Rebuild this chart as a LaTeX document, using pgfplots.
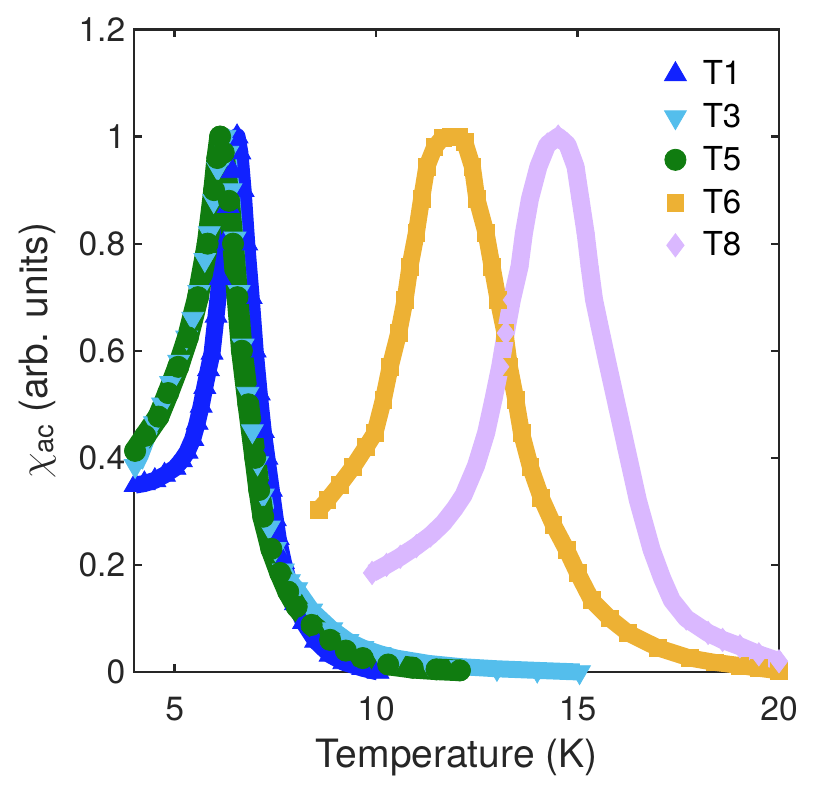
\documentclass[border=0pt]{standalone}
\usepackage{fontspec}
\setmainfont{TeX Gyre Heros}
\usepackage{amsmath}
\usepackage{pgfplots}
\pgfplotsset{compat=1.18}
\usepackage{pgfplotstable}
\definecolor{axcol}{RGB}{38,38,38}
\definecolor{cTone}{RGB}{17,34,255}
\definecolor{cTthree}{RGB}{84,190,236}
\definecolor{cTfive}{RGB}{16,124,16}
\definecolor{cTsix}{RGB}{237,177,52}
\definecolor{cTeight}{RGB}{218,184,255}

\pgfplotstableread{
x y
4.02 0.349
4.25 0.352
4.51 0.358
4.75 0.368
5.01 0.381
5.17 0.395
5.31 0.411
5.45 0.435
5.56 0.465
5.66 0.497
5.75 0.532
5.84 0.565
5.93 0.596
6.03 0.665
6.13 0.735
6.23 0.80
6.33 0.87
6.43 0.935
6.50 0.98
6.55 1.00
6.62 0.97
6.70 0.90
6.79 0.80
6.90 0.70
7.00 0.60
7.10 0.52
7.20 0.45
7.29 0.40
7.40 0.34
7.50 0.285
7.57 0.25
7.70 0.205
7.85 0.163
8.00 0.128
8.20 0.093
8.50 0.058
8.86 0.032
9.20 0.018
9.67 0.007
10.05 0.0
}\Tone

\pgfplotstableread{
x y
4.02 0.385
4.15 0.405
4.30 0.435
4.50 0.465
4.70 0.50
4.90 0.54
5.10 0.58
5.30 0.625
5.45 0.66
5.60 0.71
5.75 0.77
5.86 0.82
5.97 0.88
6.07 0.94
6.17 0.985
6.25 1.00
6.32 0.97
6.40 0.90
6.50 0.81
6.60 0.71
6.70 0.61
6.82 0.52
6.93 0.45
7.06 0.39
7.20 0.33
7.35 0.27
7.50 0.23
7.70 0.19
7.85 0.17
8.03 0.155
8.40 0.115
8.90 0.08
9.30 0.058
9.67 0.045
10.10 0.034
10.50 0.026
11.30 0.016
12.10 0.010
13.00 0.006
14.00 0.003
15.05 0.0
}\Tthree

\pgfplotstableread{
x y
4.02 0.413
4.27 0.441
4.60 0.477
4.84 0.521
5.09 0.57
5.33 0.625
5.58 0.70
5.82 0.80
5.98 0.90
6.06 0.96
6.13 1.00
6.22 0.97
6.35 0.88
6.45 0.80
6.56 0.70
6.67 0.60
6.83 0.50
7.00 0.40
7.10 0.34
7.20 0.29
7.40 0.23
7.62 0.185
7.82 0.15
8.03 0.122
8.40 0.088
8.86 0.06
9.25 0.04
9.67 0.026
10.30 0.014
10.91 0.008
11.50 0.005
12.08 0.003
}\Tfive

\pgfplotstableread{
x y
8.58 0.303
8.79 0.321
9.10 0.35
9.43 0.383
9.75 0.42
9.97 0.446
10.18 0.508
10.35 0.57
10.56 0.633
10.72 0.695
10.84 0.757
11.00 0.82
11.13 0.884
11.26 0.944
11.45 0.98
11.65 0.998
11.85 1.00
12.05 1.00
12.20 0.99
12.39 0.944
12.50 0.884
12.73 0.82
12.88 0.757
13.03 0.695
13.20 0.633
13.31 0.57
13.47 0.508
13.61 0.446
13.83 0.383
14.10 0.325
14.40 0.275
14.73 0.228
15.00 0.185
15.35 0.134
15.80 0.10
16.25 0.073
17.00 0.045
17.79 0.026
18.40 0.018
19.03 0.012
19.50 0.007
20.00 0.002
}\Tsix

\pgfplotstableread{
x y
9.90 0.185
10.26 0.20
10.60 0.215
11.00 0.235
11.35 0.255
11.67 0.278
11.95 0.305
12.17 0.33
12.48 0.385
12.73 0.446
12.91 0.508
13.08 0.57
13.22 0.633
13.37 0.695
13.56 0.757
13.67 0.82
13.82 0.884
14.03 0.944
14.25 0.985
14.52 1.00
14.75 0.985
14.95 0.944
15.07 0.884
15.20 0.82
15.30 0.757
15.41 0.695
15.55 0.645
15.75 0.575
16.00 0.49
16.22 0.415
16.50 0.32
16.84 0.228
17.10 0.175
17.34 0.134
17.70 0.10
18.24 0.073
18.60 0.06
19.03 0.048
19.50 0.033
20.00 0.02
}\Teight

\begin{document}
\begin{tikzpicture}
\begin{axis}[
  scale only axis,
  width=322.35bp, height=321.25bp,
  xmin=4, xmax=20, ymin=0, ymax=1.2,
  xtick={5,10,15,20},
  ytick={0,0.2,0.4,0.6,0.8,1,1.2},
  minor tick num=0,
  tick align=inside,
  xtick pos=both, ytick pos=both,
  xticklabel pos=bottom, yticklabel pos=left,
  major tick length=4bp,
  axis line style={draw=axcol, line width=1.1bp},
  every tick/.style={draw=axcol, line width=1.1bp},
  clip=false,
  /pgf/number format/assume math mode=true,
  tick label style={font=\fontsize{16.8bp}{20bp}\selectfont, text=axcol},
  xticklabel style={anchor=base, yshift=-24bp},
  yticklabel style={anchor=east, xshift=-1bp},
  label style={font=\fontsize{19.5bp}{23bp}\selectfont, text=axcol},
  xlabel={Temperature (K)},
  xlabel style={at={(axis description cs:0.5,0)}, anchor=base, yshift=-47.65bp},
  ylabel={$\chi_{\text{ac}}$ (arb. units)},
  ylabel style={at={(axis description cs:-0.150,0.5)}, anchor=center, rotate=0},
  legend style={at={(rel axis cs:0.817,0.955)}, anchor=north west, draw=none, fill=none,
    inner sep=0pt, row sep=5.85bp, column sep=0pt,
    font=\fontsize{16.5bp}{19bp}\selectfont, text=black,
    nodes={inner sep=1bp}},
  legend cell align=left,
  legend image code/.code={\path[draw=none,fill=none] (-7bp,0bp) -- (12.7bp,0bp); \draw[#1] plot coordinates {(0bp,0bp)};},
]
\coordinate (ll) at (rel axis cs:0,0);
\coordinate (ur) at (rel axis cs:1,1);

\addplot[draw=cTone, line width=8.5bp, line join=round, forget plot] table {\Tone};
\addplot[only marks, mark=triangle*, mark size=6.3bp, draw=cTone, fill=cTone, mark options={draw=cTone, fill=cTone}] table {\Tone};
\addlegendentry{T1}

\addplot[draw=cTthree, line width=8.5bp, line join=round, forget plot] table {\Tthree};
\addplot[only marks, mark=triangle*, mark size=6.3bp, draw=cTthree, fill=cTthree, mark options={draw=cTthree, fill=cTthree, rotate=180}] table {\Tthree};
\addlegendentry{T3}

\addplot[draw=cTfive, line width=10.8bp, line join=round, line cap=round, forget plot] table {\Tfive};
\addplot[only marks, mark=*, mark size=5.3bp, draw=cTfive, fill=cTfive, mark options={draw=cTfive, fill=cTfive}] table {\Tfive};
\addlegendentry{T5}

\addplot[draw=cTsix, line width=8.5bp, line join=round, forget plot] table {\Tsix};
\addplot[only marks, mark=square*, mark size=4.2bp, draw=cTsix, fill=cTsix, mark options={draw=cTsix, fill=cTsix}] table {\Tsix};
\addlegendentry{T6}

\addplot[draw=cTeight, line width=9bp, line join=round, forget plot] table {\Teight};
\addplot[only marks, mark=diamond*, mark size=5.8bp, draw=cTeight, fill=cTeight, mark options={draw=cTeight, fill=cTeight}] table {\Teight};
\addlegendentry{T8}
\end{axis}
\pgfresetboundingbox
\path[use as bounding box] ([xshift=-67.15bp,yshift=-57bp]ll) rectangle ([xshift=20.5bp,yshift=14.75bp]ur);
\end{tikzpicture}
\end{document}
